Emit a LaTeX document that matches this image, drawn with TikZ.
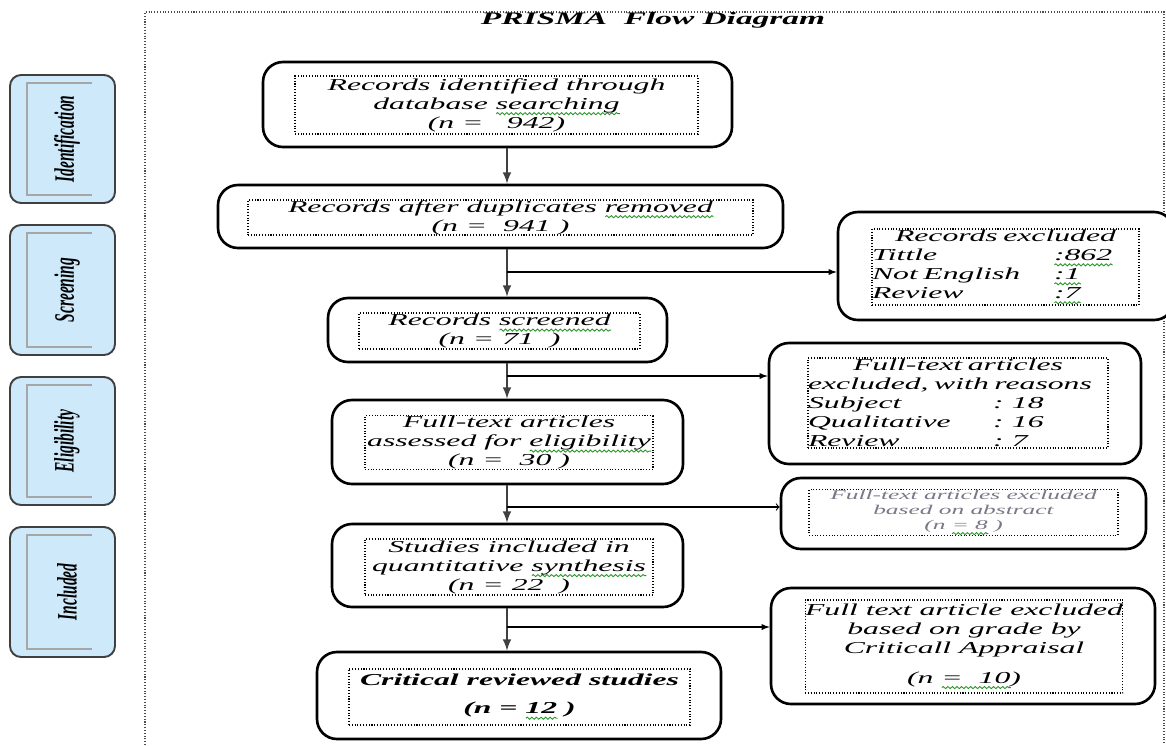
\documentclass[tikz,border=0pt]{standalone}
\usepackage{fontspec}
\setmainfont{Liberation Serif}
\newfontfamily\boxfont{Liberation Serif}[FakeStretch=1.9]
\newfontfamily\sidefont{Liberation Serif}[FakeStretch=0.55]
\usetikzlibrary{arrows}
\usetikzlibrary{decorations.pathmorphing}
\definecolor{sidefill}{RGB}{205,233,250}
\definecolor{wavegreen}{RGB}{40,150,40}
\definecolor{softtext}{RGB}{120,120,135}
% green grammar squiggle under a word
\newsavebox\sqbox
\newcommand\squig[1]{\sbox\sqbox{#1}%
  \rlap{\tikz[baseline=0pt, x=1pt, y=1pt]\draw[wavegreen, line width=0.5pt, decorate,
    decoration={snake, amplitude=0.6pt, segment length=2.6pt}] (0,-2.6) -- (\the\wd\sqbox,-2.6);}%
  \usebox\sqbox}

\tikzset{
  sz/.style 2 args={minimum width=(#1)*0.02cm, minimum height=(#2)*0.02cm},
  outerbox/.style={draw, line width=1.5pt, rounded corners=0.4cm, fill=white, inner sep=0pt},
  innerbox/.style={draw, densely dotted, line width=0.6pt, inner sep=0pt, align=center,
    font=\boxfont\itshape\fontsize{9.5}{10.8}\selectfont},
  sidebox/.style={draw=black!75, line width=1.1pt, fill=sidefill, rounded corners=0.22cm},
  sidelabel/.style={font=\sidefont\bfseries\itshape\fontsize{16}{18}\selectfont},
  flow/.style={-latex, line width=1.2pt, black!75},
  branch/.style={-latex, line width=0.6pt},
  openbranch/.style={->, line width=0.6pt}
}

\begin{document}
\begin{tikzpicture}[x=0.02cm, y=-0.02cm]

\useasboundingbox (0,0) rectangle (1166,745);

%---------------------------------------
% Frame and title
%---------------------------------------
\draw[densely dotted, line width=0.6pt, black!70] (145,745) -- (145,12) -- (1164,12) -- (1164,745);
\node (title) at (653,20) {\boxfont\bfseries\itshape\fontsize{10}{12}\selectfont PRISMA\ \ Flow Diagram};

%---------------------------------------
% Phase labels on the left
%---------------------------------------
\foreach \i/\yt/\yb/\lbl in {1/75/203/Identification, 2/225/355/Screening,
                             3/377/505/Eligibility, 4/527/657/Included}{
  \node[sidebox, sz={105}{\yb-\yt}] (side\i) at (62.5,{(\yt+\yb)/2}) {};
  \draw[line width=1.5pt, black!35] (92,\yt+8) -- (27,\yt+8) -- (27,\yb-8) -- (92,\yb-8);
  \node[sidelabel, rotate=90] (lab\i) at (67,{(\yt+\yb)/2}) {\lbl};
}

%====================================================
% Main column
%====================================================
\node[outerbox, sz={469}{85}] (b1) at (497.5,104.5) {};
\node[innerbox, sz={403}{58}] (t1) at (496.5,105)
  {Records identified through\\ database \squig{searching}\\ (n =\hspace{1.4em}942)};

\node[outerbox, sz={565}{63}] (b2) at (500.5,216.5) {};
\node[innerbox, sz={505}{35}] (t2) at (500.5,217.5)
  {Records after duplicates \squig{removed}\\ (n =\ \ 941 )};

\node[outerbox, sz={339}{64}] (b3) at (497.5,330) {};
\node[innerbox, sz={281}{36}] (t3) at (499.5,331)
  {Records \squig{screened}\\ (n = 71\ \ )};

\node[outerbox, sz={351}{84}] (b4) at (507.5,442) {};
\node[innerbox, sz={288}{53}] (t4) at (509,442.5)
  {Full-text articles\\ assessed for \squig{eligibility}\\ (n =\ \ 30 )};

\node[outerbox, sz={351}{83}] (b5) at (507.5,565.5) {};
\node[innerbox, sz={288}{56}] (t5) at (509,567)
  {Studies included in\\ quantitative \squig{synthesis}\\ (n = 22\ \ )};

\node[outerbox, sz={404}{87}] (b6) at (519,695.5) {};
\node[innerbox, sz={341}{56}, font=\boxfont\bfseries\itshape\fontsize{9.5}{10.8}\selectfont] (t6) at (519.5,697)
  {Critical reviewed studies\\[5pt] (n = \squig{12} )};

%====================================================
% Exclusion boxes on the right
%====================================================
\node[outerbox, sz={336}{108}] (ex1) at (1006,266) {};
\node[innerbox, sz={267}{76}, align=left, text width=5.34cm] (x1) at (1005.5,267)
  {\makebox[\linewidth]{Records excluded}\\
   \makebox[3.64cm][l]{Tittle}\squig{:862}\\
   \makebox[3.64cm][l]{Not English}\squig{:1}\\
   \makebox[3.64cm][l]{Review}\squig{:7}};

\node[outerbox, sz={372}{121}] (ex2) at (955,403.5) {};
\node[innerbox, sz={300}{90}, align=left, text width=6cm] (x2) at (958,403)
  {\makebox[\linewidth]{Full-text articles}\\
   \makebox[\linewidth][s]{excluded, with reasons}\\
   \makebox[3.7cm][l]{Subject}: 18\\
   \makebox[3.7cm][l]{Qualitative}: 16\\
   \makebox[3.7cm][l]{Review}: 7};

\node[outerbox, sz={365}{71}] (ex3) at (963.5,513.5) {};
\node[innerbox, sz={309}{41}, text=softtext, font=\boxfont\itshape\fontsize{7.6}{8.5}\selectfont] (x3) at (963.5,512.5)
  {Full-text articles excluded\\ based on abstract\\ (n \squig{= 8} )};

\node[outerbox, sz={384}{116}] (ex4) at (963,646) {};
\node[innerbox, sz={312}{93}] (x4) at (964,646.5)
  {Full text article excluded\\ based on grade by\\ Criticall Appraisal\\[6pt] (n \squig{=\ \ 10})};

%---------------------------------------
% Connectors
%---------------------------------------
\coordinate (col) at (507,0);
\coordinate (j1) at (507,272);
\coordinate (j2) at (507,376);
\coordinate (j3) at (507,507);
\coordinate (j4) at (507,627);

\draw[flow] (b1.south -| col) -- (b2.north -| col);
\draw[flow] (b2.south -| col) -- (b3.north -| col);
\draw[flow] (b3.south -| col) -- (b4.north -| col);
\draw[flow] (b4.south -| col) -- (b5.north -| col);
\draw[flow] (b5.south -| col) -- (b6.north -| col);

\draw[branch] (j1) -- (ex1.west |- j1);
\draw[branch] (j2) -- (ex2.west |- j2);
\draw[openbranch] (j3) -- (ex3.west |- j3);
\draw[branch] (j4) -- (ex4.west |- j4);

\end{tikzpicture}
\end{document}
